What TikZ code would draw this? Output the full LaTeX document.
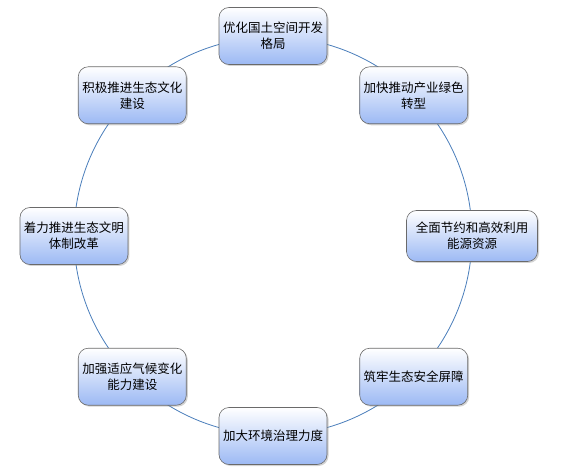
\documentclass[tikz,border=0pt]{standalone}
\usepackage{fontspec}
\setmainfont{Noto Sans CJK SC}
\usepackage{tikz}
\usetikzlibrary{shadows, positioning}
\definecolor{ringblue}{HTML}{4A7EBB}
\definecolor{boxblue}{HTML}{9CB9F4}
\definecolor{boxedge}{HTML}{6A6A6A}

\begin{document}
\begin{tikzpicture}[x=1pt, y=1pt,
    goal/.style={rectangle, rounded corners=10pt, draw=boxedge, line width=0.6pt,
                 top color=white, bottom color=boxblue, minimum width=108pt,
                 minimum height=57pt, align=center, font=\fontsize{12.5}{16}\selectfont,
                 drop shadow={shadow xshift=1.5pt, shadow yshift=-1.5pt, opacity=0.35}},
    ring/.style={draw=ringblue, line width=0.8pt}]

  \useasboundingbox (-273,236) rectangle (291,-237);
  \coordinate (c) at (0,0);
  \draw[ring] (c) circle (199);

  \node[goal] (land)    at (90:200)  {优化国土空间开发\\格局};
  \node[goal] (green)   at (45:199)  {加快推动产业绿色\\转型};
  \node[goal, minimum width=131pt, minimum height=51pt]
              (energy)  at (0:199)   {全面节约和高效利用\\能源资源};
  \node[goal] (shield)  at (-45:199) {筑牢生态安全屏障};
  \node[goal] (govern)  at (-90:200) {加大环境治理力度};
  \node[goal] (climate) at (-135:199) {加强适应气候变化\\能力建设};
  \node[goal] (reform)  at (180:199) {着力推进生态文明\\体制改革};
  \node[goal] (culture) at (135:199) {积极推进生态文化\\建设};
\end{tikzpicture}
\end{document}
